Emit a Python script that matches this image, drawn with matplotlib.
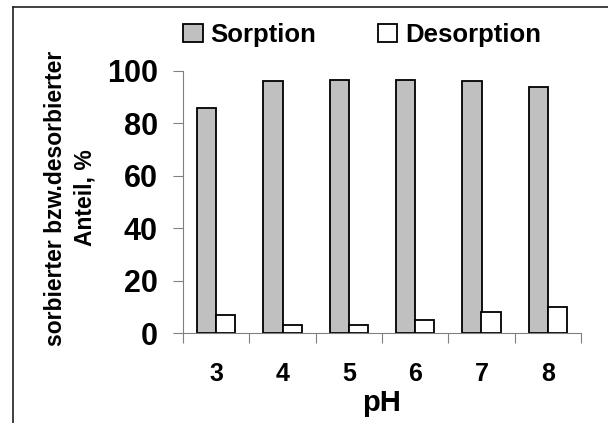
import numpy as np
import matplotlib
matplotlib.use('Agg')
from matplotlib import pyplot as plt
from matplotlib.lines import Line2D

plt.rcParams['font.family'] = ['Liberation Sans', 'DejaVu Sans']
plt.rcParams['font.weight'] = 'bold'

# Data
ph = ['3', '4', '5', '6', '7', '8']
sorption = [86, 96, 96.5, 96.5, 96, 94]
desorption = [7, 3, 3, 5, 8, 10]

W, H = 608, 423
fig = plt.figure(figsize=(W / 100, H / 100), dpi=100)

# frame around the chart area (only left and top edges are in the picture)
fx, fy = 13 / W, 1 - 7 / H
fig.add_artist(Line2D([fx, fx], [0, fy], transform=fig.transFigure,
                      color='#202020', linewidth=1.2))
fig.add_artist(Line2D([fx, 1], [fy, fy], transform=fig.transFigure,
                      color='#202020', linewidth=1.2))

ax = fig.add_axes([183 / W, 1 - 333 / H, (581 - 183) / W, (333 - 71) / H])

x = np.arange(len(ph))
bw = 0.29
ax.bar(x - bw / 2, sorption, bw, color='#c0c0c0', edgecolor='black',
       linewidth=1.3, label='Sorption')
ax.bar(x + bw / 2, desorption, bw, color='white', edgecolor='black',
       linewidth=1.3, label='Desorption')

ax.set_xlim(-0.5, len(ph) - 0.5)
ax.set_ylim(0, 100)
ax.set_yticks([0, 20, 40, 60, 80, 100])
ax.tick_params(axis='y', labelsize=22, length=7, width=0.8, color='#808080', pad=11)

# x ticks at group boundaries, labels in the middle
ax.set_xticks(np.arange(-0.5, len(ph)), minor=False)
ax.set_xticklabels([])
ax.set_xticks(x, minor=True)
ax.set_xticklabels(ph, minor=True)
ax.tick_params(axis='x', which='major', length=7, width=0.8, color='#808080')
ax.tick_params(axis='x', which='minor', length=0, labelsize=18, pad=21)

for s in ['top', 'right']:
    ax.spines[s].set_visible(False)
for s in ['left', 'bottom']:
    ax.spines[s].set_color('#808080')
    ax.spines[s].set_linewidth(0.8)

ax.set_xlabel('pH', fontsize=21, fontweight='bold')
ax.xaxis.set_label_coords(0.5, -0.215)

fig.text(70 / W, 1 - 198 / H, 'sorbierter bzw.desorbierter\nAnteil, %',
         rotation=90, ha='center', va='center', multialignment='center',
         fontsize=16.5, fontweight='bold', linespacing=1.35)

fig.legend(loc='center', bbox_to_anchor=(362 / W, 1 - 35 / H), ncol=2,
           frameon=False, fontsize=18.5, handlelength=0.75, handleheight=0.75,
           handletextpad=0.3, columnspacing=2.4, borderaxespad=0)

fig.savefig('out.png', dpi=100)
